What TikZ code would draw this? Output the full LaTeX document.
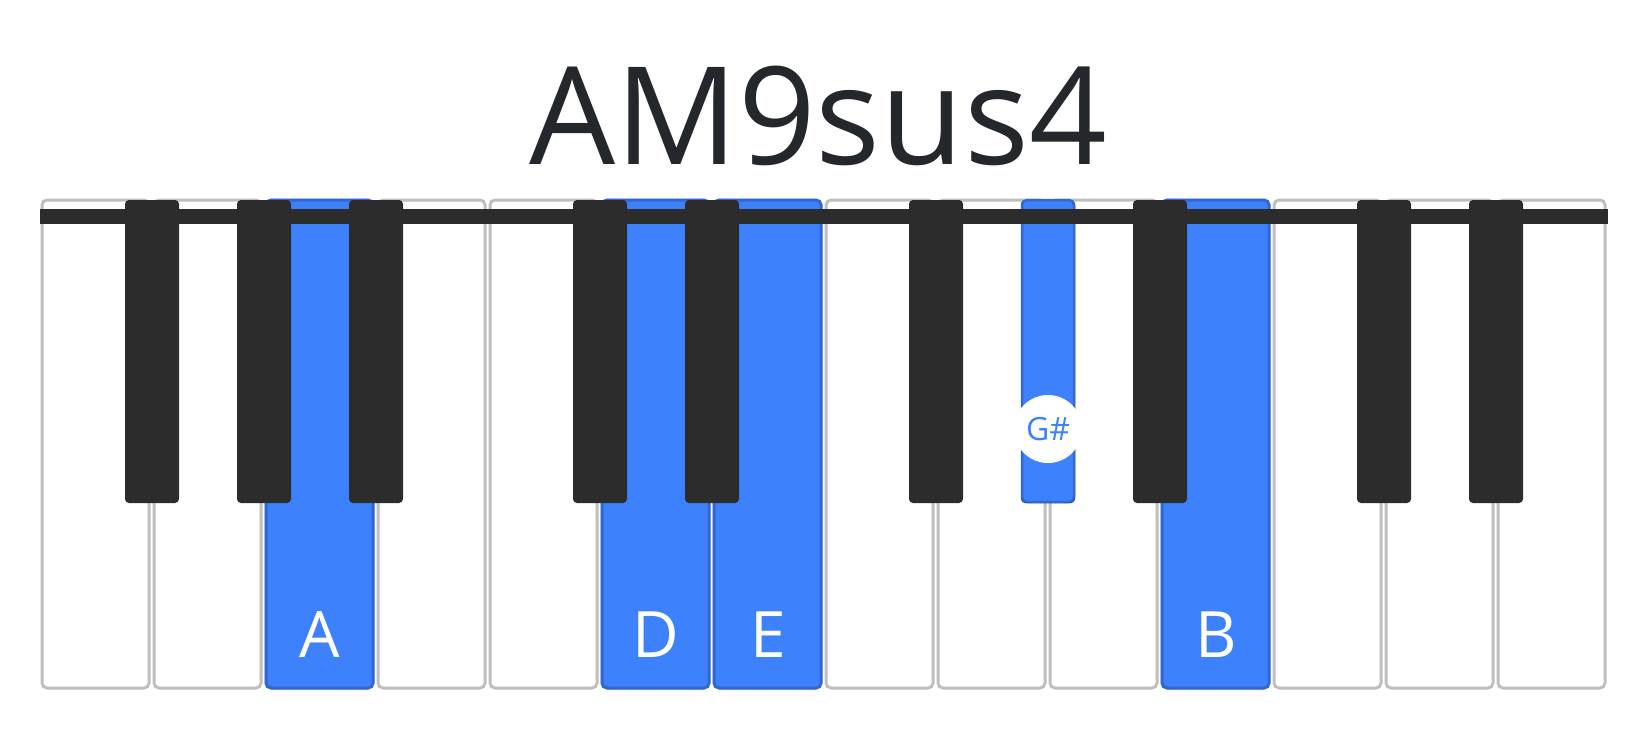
\documentclass[tikz,border=0pt]{standalone}
\usepackage{fontspec}
\setmainfont{Open Sans}
\definecolor{keyblue}{HTML}{3D82FC}
\definecolor{keyedge}{HTML}{2F68D0}
\definecolor{blackkey}{HTML}{2C2C2C}
\definecolor{titlegray}{HTML}{24272B}
\begin{document}
\begin{tikzpicture}[x=1pt,y=-1pt,
  white key/.style={draw=black!25,line width=3pt,fill=white,rounded corners=5pt},
  blue key/.style={draw=keyedge,line width=3pt,fill=keyblue,rounded corners=5pt},
  black key/.style={fill=blackkey,rounded corners=4pt},
  note label/.style={text=white,font=\fontsize{64}{64}\selectfont}]
  \useasboundingbox (0,0) rectangle (1650,740);

  % white keys
  \foreach \i in {0,...,13}
    \draw[white key] ({42+112*\i},200) rectangle ({40+112*(\i+1)-3},688);
  \foreach \i in {2,5,6,10}
    \draw[blue key] ({42+112*\i},200) rectangle ({40+112*(\i+1)-3},688);

  % black keys
  \foreach \b in {1,2,3,5,6,8,9,10,12,13}
    \fill[black key] ({40+112*\b-27},200) rectangle ({40+112*\b+27},503);
  \draw[blue key,line width=2.5pt] ({40+112*9-26},200) rectangle ({40+112*9+26},502);

  % top bar
  \fill[blackkey] (40,209) rectangle (1608,224);

  \node[font=\fontsize{136}{136}\selectfont,text=titlegray] (title) at (818,116) {AM9sus4};

  \node[note label] (A) at (320,635) {A};
  \node[note label] (D) at (656,635) {D};
  \node[note label] (E) at (768,635) {E};
  \node[note label] (B) at (1216,635) {B};
  \node[circle,fill=white,minimum size=68pt,inner sep=0pt,text=keyblue,
    font=\fontsize{32}{32}\selectfont] (Gs) at (1048,429) {G\#};
\end{tikzpicture}
\end{document}
